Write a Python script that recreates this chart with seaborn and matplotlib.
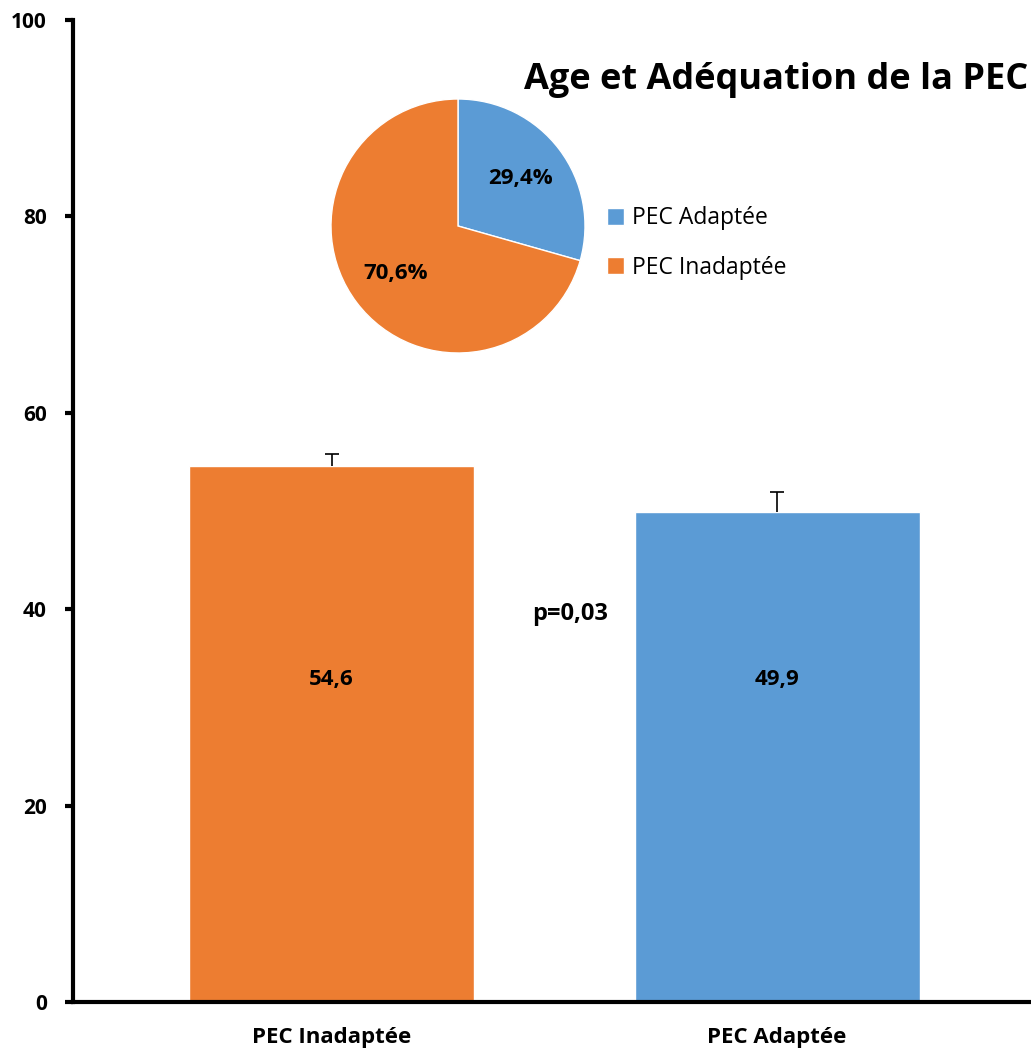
import matplotlib
matplotlib.use('Agg')
import matplotlib.pyplot as plt
import seaborn as sns
import pandas as pd

# data
groups = ['PEC Inadaptée', 'PEC Adaptée']
mean_age = [54.6, 49.9]
age_err = [1.2, 2.0]
bar_labels = ['54,6', '49,9']
pie_labels = ['PEC Adaptée', 'PEC Inadaptée']
pie_share = [29.4, 70.6]
pie_text = ['29,4%', '70,6%']
p_value = 'p=0,03'

orange = '#ED7D31'
blue = '#5B9BD5'

sns.set_theme(style='white')
plt.rcParams['font.family'] = ['Open Sans', 'DejaVu Sans']
plt.rcParams['text.color'] = 'black'
plt.rcParams['xtick.color'] = 'black'
plt.rcParams['ytick.color'] = 'black'

fig = plt.figure(figsize=(10.31, 10.52), dpi=100)
ax = fig.add_axes([0.071, 0.0475, 0.929, 0.9335])

df = pd.DataFrame({'group': groups, 'age': mean_age})
sns.barplot(data=df, x='group', y='age', hue='group', palette=[orange, blue],
            width=0.64, errorbar=None, legend=False, ax=ax, saturation=1)
# upper error only, no cap at the bar top
_, caps, _ = ax.errorbar(x=[0, 1], y=mean_age, yerr=[[0, 0], age_err], fmt='none',
                         ecolor='black', elinewidth=1.2, capsize=5, capthick=1.2)
caps[0].set_visible(False)

for i, lab in enumerate(bar_labels):
    ax.text(i, 32.8, lab, ha='center', va='center', fontsize=16, fontweight='bold')
ax.text(0.535, 39.5, p_value, ha='center', va='center', fontsize=17, fontweight='bold')

ax.set_ylim(0, 100)
ax.set_xlim(-0.58, 1.57)
ax.set_yticks([0, 20, 40, 60, 80, 100])
ax.set_xlabel('')
ax.set_ylabel('')
for side in ['top', 'right']:
    ax.spines[side].set_visible(False)
for side in ['left', 'bottom']:
    ax.spines[side].set_linewidth(3)
    ax.spines[side].set_color('black')
ax.tick_params(axis='y', direction='out', length=6, width=3, pad=13,
               labelsize=15, left=True)
ax.tick_params(axis='x', length=0, pad=18, labelsize=16)
for t in ax.get_xticklabels() + ax.get_yticklabels():
    t.set_fontweight('bold')

# pie inset
pax = fig.add_axes([(458 - 127) / 1031, 1 - (226 + 127) / 1052, 254 / 1031, 254 / 1052])
wedges, _, autotexts = pax.pie(pie_share, colors=[blue, orange], startangle=90,
                               counterclock=False, autopct='%1.1f%%', pctdistance=0.62,
                               wedgeprops=dict(edgecolor='white', linewidth=1))
for t, s in zip(autotexts, pie_text):
    t.set_text(s)
    t.set_fontsize(16)
    t.set_fontweight('bold')
pax.set_xlim(-1, 1)
pax.set_ylim(-1, 1)
pax.set_aspect('equal')

fig.legend(wedges, pie_labels, loc='center left', bbox_to_anchor=(0.569, 1 - 243 / 1052),
           frameon=False, fontsize=16.5, handlelength=0.75, handleheight=0.75,
           handletextpad=0.35, labelspacing=1.1)

fig.text(1028 / 1031, 1 - 80 / 1052, 'Age et Adéquation de la PEC', ha='right', va='center',
         fontsize=26, fontweight='bold')

fig.savefig('out.png', dpi=100)
